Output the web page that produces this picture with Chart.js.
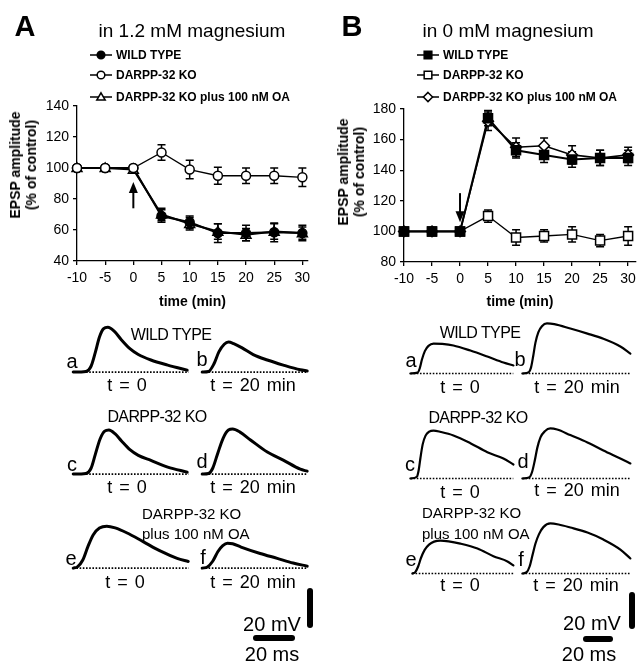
<!DOCTYPE html>
<html>
<head>
<meta charset="utf-8">
<script src="https://cdn.jsdelivr.net/npm/chart.js@4.4.1/dist/chart.umd.min.js"></script>
<style>
  body { margin: 0; background: #fff; font-family: Arial, "Liberation Sans", sans-serif; color: #000; }
  #fig { position: relative; width: 641px; height: 669px; overflow: hidden; }
  #fig canvas { position: absolute; }
  .lbl { position: absolute; white-space: nowrap; line-height: 1; transform: translate(-50%, -50%); }
  .left { transform: translate(0, -50%); }
  .ytitle { position: absolute; font-weight: bold; font-size: 14px; line-height: 16px; text-align: center;
            white-space: nowrap; transform: translate(-50%, -50%) rotate(-90deg); }
  .bar { position: absolute; background: #000; border-radius: 3px; }
</style>
</head>
<body>
<div id="fig">
  <canvas id="chartA" width="320" height="315" style="left:0;top:0"></canvas>
  <canvas id="chartB" width="321" height="315" style="left:320px;top:0"></canvas>
</div>
<script>
// ---- summary data (time in min, EPSP amplitude in % of control) ----
const times = [-10, -5, 0, 5, 10, 15, 20, 25, 30];
const yTicksA = [40, 60, 80, 100, 120, 140];
const yTicksB = [80, 100, 120, 140, 160, 180];

const wtA = [100, 100, 100, 69, 65, 58, 58, 58.5, 58];
const wtAErr = [0, 0, 0, 4, 4, 6, 5, 6, 5];
const koA = [100, 100, 100, 110, 99, 95, 95, 95, 94];
const koAErr = [0, 0, 1, 5, 6, 5.5, 5, 5, 6];
const oaA = [100, 100, 99, 70, 64, 59, 57, 59, 58];
const oaAErr = [0, 0, 0, 4, 4, 5, 4, 5, 4];

const wtB = [100, 100, 100, 174, 153, 150, 147, 148, 148];
const wtBErr = [0, 0, 0, 5, 5, 5, 5, 5, 5];
const koB = [100, 100, 100, 110, 96, 97, 98, 94, 97];
const koBErr = [0, 0, 0, 4, 5, 4, 5, 4, 6];
const oaB = [100, 100, 100, 172, 155, 156, 150, 148, 150];
const oaBErr = [0, 0, 0, 6, 6, 5, 6, 5, 5];

// arrow marking the change at t = 0 (y from -> tip)
const arrowA = { x: 0, from: 74, to: 91 };
const arrowB = { x: 0, from: 125, to: 106 };

// ---- EPSP traces, [ms, mV] ----
const traceAa = [[0,0],[6,0.3],[8.5,3],[10.5,10],[12.5,18],[14.5,22.3],[16.5,23],[19.5,21],[23,16.5],[27,12],[31,9],[37,6.2],[45,3.6],[54.3,1]];
const traceAb = [[0,0],[3,0.3],[5.5,4],[8,10.5],[10.5,14.3],[12.5,15.4],[15,14.6],[19,12.4],[24.3,9],[31,6.2],[38.6,3.6],[46.7,1.2],[50,0.6]];
const traceAc = [[0,0],[6,0.3],[8.5,3],[10.5,10],[12.8,18],[15,22],[17,22.6],[20,20.6],[23,17],[27,12.5],[31,9.6],[37,7],[45,3.6],[54.3,1]];
const traceAd = [[0,0],[3,0.3],[5,3],[7.5,11],[10,18.5],[12.5,22.6],[14.5,23.1],[18,21.5],[23,17.5],[31,11.3],[38.6,7.2],[46.7,2.5],[50,1.5]];
const traceAe = [[0,0],[2,0.6],[4.5,4],[7,11],[9.5,17],[12.5,20.5],[16,21.5],[20,20.6],[25.7,18],[33.3,13.6],[41.4,8.8],[49.5,5],[54.8,3.4]];
const traceAf = [[0,0],[2.5,0.6],[5,3.5],[7.5,8.5],[9.8,11.5],[12,12.8],[14.5,12.5],[18.5,10.8],[27.6,7.5],[35.7,5],[43.3,2.6],[50,1]];
const traceBa = [[0,0],[5,0.5],[6.5,3],[8,8],[10,12.8],[12.5,15.8],[16,17.1],[22,16.9],[29.7,16],[41.4,13.1],[53.1,9.7],[64.2,6.3],[71.1,4.6]];
const traceBb = [[0,0],[4.5,0.8],[6,3.5],[7.5,10],[9,17.5],[11,23.5],[13.5,27],[17,28.6],[22,28.2],[33.1,25.7],[44.9,22.8],[55.9,19.8],[67.6,15.4],[74.5,11.4]];
const traceBc = [[0,0],[4.5,1],[5.8,5],[7,12],[8.5,19.5],[10.5,24.5],[13,26.8],[16,27.4],[21,26.6],[29.7,24.6],[41.4,20.2],[53.1,15],[64.2,11.4],[71.1,8]];
const traceBd = [[0,0],[5,0.8],[6.8,4],[8.5,10],[10.3,17.5],[12.5,23.5],[15.5,27],[19.3,28.6],[24,28],[33.1,24.8],[44.9,20.6],[55.9,16],[67.6,11.4],[74.5,8.6]];
const traceBe = [[0,0],[2,0.8],[4,4],[6,9],[8.5,13.5],[11.5,16.5],[15,18.2],[19.3,18.8],[25,18.4],[33.1,17.1],[44.9,14.3],[55.9,9.9],[65.6,6.9],[69.7,4.6]];
const traceBf = [[0,0],[3,0.8],[5,4],[7,10.5],[9,17],[11.5,22.5],[14.5,26.5],[19.3,28.6],[25,28],[33.1,26.3],[44.9,23.4],[55.9,19.4],[67.6,13.7],[74.5,8.6]];
const baseEndA = { a: 55, b: 50, c: 55, d: 50, e: 55, f: 50 };
const baseEndB = { a: 71, b: 74.5, c: 71, d: 74.5, e: 70, f: 74.5 };

Chart.defaults.font.family = 'Arial, "Liberation Sans", sans-serif';
Chart.defaults.color = '#000';

function drawMarker(ctx, style, x, y, r, filled) {
  ctx.save();
  ctx.beginPath();
  if (style === 'circle') ctx.arc(x, y, r, 0, Math.PI * 2);
  else if (style === 'rect') ctx.rect(x - r, y - r, 2 * r, 2 * r);
  else if (style === 'triangle') { ctx.moveTo(x, y - r * 1.1); ctx.lineTo(x + r * 1.1, y + r * 0.8); ctx.lineTo(x - r * 1.1, y + r * 0.8); ctx.closePath(); }
  else if (style === 'rectRot') { ctx.moveTo(x, y - r * 1.2); ctx.lineTo(x + r * 1.2, y); ctx.lineTo(x, y + r * 1.2); ctx.lineTo(x - r * 1.2, y); ctx.closePath(); }
  ctx.fillStyle = filled ? '#000' : '#fff';
  ctx.fill();
  ctx.lineWidth = 1.5; ctx.strokeStyle = '#000';
  ctx.stroke();
  ctx.restore();
}

const errorBars = {
  id: 'errorBars',
  beforeDatasetsDraw(chart) {
    const { ctx, scales: { x, y } } = chart;
    ctx.save();
    ctx.strokeStyle = '#000'; ctx.lineWidth = 1.5;
    chart.data.datasets.forEach(ds => {
      ds.data.forEach((p, i) => {
        const e = ds.errors[i]; if (!e) return;
        const px = x.getPixelForValue(p.x), top = y.getPixelForValue(p.y + e), bot = y.getPixelForValue(p.y - e);
        ctx.beginPath();
        ctx.moveTo(px, top); ctx.lineTo(px, bot);
        ctx.moveTo(px - 4, top); ctx.lineTo(px + 4, top);
        ctx.moveTo(px - 4, bot); ctx.lineTo(px + 4, bot);
        ctx.stroke();
      });
    });
    ctx.restore();
  },
  // markers drawn by hand so open/filled symbols look like the print
  afterDatasetsDraw(chart) {
    const { ctx, scales: { x, y } } = chart;
    const idx = chart.data.datasets.map((ds, i) => i).sort((a, b) => chart.data.datasets[b].order - chart.data.datasets[a].order);
    idx.forEach(i => {
      const ds = chart.data.datasets[i];
      ds.data.forEach(p => drawMarker(ctx, ds.marker, x.getPixelForValue(p.x), y.getPixelForValue(p.y), ds.markerSize, ds.filled));
    });
  }
};

const arrowPlugin = {
  id: 'arrow',
  afterDatasetsDraw(chart, args, opts) {
    const { ctx, scales: { x, y } } = chart;
    const px = x.getPixelForValue(opts.x), y0 = y.getPixelForValue(opts.from), y1 = y.getPixelForValue(opts.to);
    const dir = Math.sign(y1 - y0);
    ctx.save();
    ctx.strokeStyle = '#000'; ctx.fillStyle = '#000'; ctx.lineWidth = 2;
    ctx.beginPath(); ctx.moveTo(px, y0); ctx.lineTo(px, y1 - dir * 8); ctx.stroke();
    ctx.beginPath(); ctx.moveTo(px, y1); ctx.lineTo(px - 4.5, y1 - dir * 11); ctx.lineTo(px + 4.5, y1 - dir * 11); ctx.closePath(); ctx.fill();
    ctx.restore();
  }
};

const figLegend = {
  id: 'figLegend',
  afterDraw(chart, args, opts) {
    const ctx = chart.ctx;
    ctx.save();
    opts.order.forEach((idx, k) => {
      const ds = chart.data.datasets[idx], yy = opts.y[k];
      ctx.strokeStyle = '#000'; ctx.lineWidth = 1.5;
      ctx.beginPath(); ctx.moveTo(opts.x0, yy); ctx.lineTo(opts.x1, yy); ctx.stroke();
      drawMarker(ctx, ds.marker, (opts.x0 + opts.x1) / 2, yy, ds.markerSize * 0.85, ds.filled);
      ctx.fillStyle = '#000'; ctx.font = 'bold 12px Arial, "Liberation Sans", sans-serif'; ctx.textBaseline = 'middle';
      ctx.fillText(ds.label, opts.textX, yy + 0.5);
    });
    ctx.restore();
  }
};

function series(label, vals, errs, marker, filled, width, order) {
  return {
    label, order, marker, filled, markerSize: 4.5, errors: errs,
    data: times.map((t, i) => ({ x: t, y: vals[i] })),
    borderColor: '#000', borderWidth: width, pointRadius: 0, tension: 0
  };
}

function axisOpts(min, max, tickVals, fitSize, horiz) {
  return {
    type: 'linear', min, max,
    afterBuildTicks: s => { s.ticks = tickVals.map(v => ({ value: v })); },
    afterFit: s => { if (horiz) s.height = fitSize; else s.width = fitSize; },
    grid: { drawOnChartArea: false, drawTicks: true, tickLength: 4, color: '#000', lineWidth: 1.3 },
    border: { display: true, color: '#000', width: 1.3 },
    ticks: { font: { size: 14 }, color: '#000', padding: horiz ? 5 : 4 },
  };
}

function summaryChart(id, datasets, xmax, yMin, yMax, yTicks, yWidth, xHeight, pad, arrow, legendX) {
  const x = axisOpts(-10, xmax, times, xHeight, true);
  x.title = { display: true, text: 'time (min)', font: { size: 14, weight: 'bold' }, padding: { top: 2 } };
  return new Chart(document.getElementById(id), {
    type: 'line',
    data: { datasets },
    options: {
      responsive: false, animation: false, events: [],
      layout: { padding: pad },
      plugins: {
        legend: { display: false }, tooltip: { enabled: false },
        arrow,
        figLegend: { order: [0, 1, 2], y: [55, 75, 97], x0: legendX, x1: legendX + 22, textX: legendX + 26 }
      },
      scales: { x, y: axisOpts(yMin, yMax, yTicks, yWidth, false) }
    },
    plugins: [errorBars, arrowPlugin, figLegend]
  });
}

summaryChart('chartA', [
  series('WILD TYPE', wtA, wtAErr, 'circle', true, 2, 1),
  series('DARPP-32 KO', koA, koAErr, 'circle', false, 1.3, 0),
  series('DARPP-32 KO plus 100 nM OA', oaA, oaAErr, 'triangle', false, 2, 2)
], 31, 40, 140, yTicksA, 77, 54, { top: 106, right: 12, left: 0, bottom: 0 }, arrowA, 90);

summaryChart('chartB', [
  series('WILD TYPE', wtB, wtBErr, 'rect', true, 2, 0),
  series('DARPP-32 KO', koB, koBErr, 'rect', false, 1.3, 2),
  series('DARPP-32 KO plus 100 nM OA', oaB, oaBErr, 'rectRot', false, 1.6, 1)
], 31.4, 80, 180, yTicksB, 84, 53, { top: 109, right: 3, left: 0, bottom: 0 }, arrowB, 97);

// ---- traces ----
const fig = document.getElementById('fig');
function traceChart(pts, baseEnd, left, top, panel) {
  const c = panel === 'A'
    ? { w: 126, h: 55, xmin: -2, xmax: 58, ymin: -2, ymax: 26.2, lw: 3 }
    : { w: 116, h: 56, xmin: -3, xmax: 77, ymin: -2, ymax: 30, lw: 2.2 };
  const cv = document.createElement('canvas');
  cv.width = c.w; cv.height = c.h;
  cv.style.left = left + 'px'; cv.style.top = top + 'px';
  fig.appendChild(cv);
  new Chart(cv, {
    type: 'line',
    data: { datasets: [
      { data: pts.map(p => ({ x: p[0], y: p[1] })), borderColor: '#000', borderWidth: c.lw, pointRadius: 0,
        cubicInterpolationMode: 'monotone', borderCapStyle: 'round', borderJoinStyle: 'round', clip: false },
      { data: [{ x: 0, y: 0 }, { x: baseEnd, y: 0 }], borderColor: '#000', borderWidth: 1.6, borderDash: [1.6, 1.6], pointRadius: 0 }
    ] },
    options: {
      responsive: false, animation: false, events: [],
      layout: { padding: 0 },
      plugins: { legend: { display: false }, tooltip: { enabled: false } },
      scales: { x: { type: 'linear', display: false, min: c.xmin, max: c.xmax }, y: { display: false, min: c.ymin, max: c.ymax } }
    }
  });
}
traceChart(traceAa, baseEndA.a, 69, 321, 'A');
traceChart(traceAb, baseEndA.b, 198, 321, 'A');
traceChart(traceAc, baseEndA.c, 69, 423, 'A');
traceChart(traceAd, baseEndA.d, 198, 423, 'A');
traceChart(traceAe, baseEndA.e, 69, 517, 'A');
traceChart(traceAf, baseEndA.f, 198, 517, 'A');
traceChart(traceBa, baseEndB.a, 406, 321, 'B');
traceChart(traceBb, baseEndB.b, 518, 321, 'B');
traceChart(traceBc, baseEndB.c, 406, 426, 'B');
traceChart(traceBd, baseEndB.d, 518, 426, 'B');
traceChart(traceBe, baseEndB.e, 408, 521, 'B');
traceChart(traceBf, baseEndB.f, 518, 521, 'B');

// ---- text ----
function txt(s, x, y, css, left) {
  const d = document.createElement('div');
  d.className = 'lbl' + (left ? ' left' : '');
  d.textContent = s;
  d.style.left = x + 'px'; d.style.top = y + 'px';
  d.style.cssText += css || '';
  fig.appendChild(d);
}
function ytitle(x, y) {
  const d = document.createElement('div');
  d.className = 'ytitle';
  d.innerHTML = 'EPSP amplitude<br>(% of control)';
  d.style.left = x + 'px'; d.style.top = y + 'px';
  fig.appendChild(d);
}
function bar(x, y, w, h) {
  const d = document.createElement('div');
  d.className = 'bar';
  d.style.left = x + 'px'; d.style.top = y + 'px'; d.style.width = w + 'px'; d.style.height = h + 'px';
  fig.appendChild(d);
}

const big = 'font-size:29px;font-weight:bold;';
const head = 'font-size:19px;';
const name = 'font-size:16px;letter-spacing:-0.6px;';
const tlab = 'font-size:18px;word-spacing:2px;';
const letter = 'font-size:20px;';
txt('A', 25, 26, big); txt('in 1.2 mM magnesium', 192, 30, head);
txt('B', 352, 26, big); txt('in 0 mM magnesium', 508, 30, head);
ytitle(23, 165); ytitle(351, 172);

// panel A trace labels
txt('WILD TYPE', 171, 335, name);
txt('a', 72, 361, letter); txt('b', 202, 359, letter);
txt('t = 0', 127, 385, tlab); txt('t = 20 min', 253, 385, tlab);
txt('DARPP-32 KO', 157, 417, name);
txt('c', 72, 464, letter); txt('d', 202, 461, letter);
txt('t = 0', 127, 487, tlab); txt('t = 20 min', 253, 487, tlab);
txt('DARPP-32 KO', 142, 513, 'font-size:15px;', true);
txt('plus 100 nM OA', 142, 533, 'font-size:15px;', true);
txt('e', 71, 558, letter); txt('f', 203, 557, letter);
txt('t = 0', 125, 582, tlab); txt('t = 20 min', 253, 582, tlab);
txt('20 mV', 272, 624, letter); txt('20 ms', 272, 654, letter);
bar(307, 588, 6, 40); bar(253, 635, 42, 6);

// panel B trace labels
txt('WILD TYPE', 480, 333, name);
txt('a', 411, 360, letter); txt('b', 520, 359, letter);
txt('t = 0', 460, 387, tlab); txt('t = 20 min', 577, 387, tlab);
txt('DARPP-32 KO', 478, 418, name);
txt('c', 410, 464, letter); txt('d', 523, 461, letter);
txt('t = 0', 460, 492, tlab); txt('t = 20 min', 577, 490, tlab);
txt('DARPP-32 KO', 422, 512, 'font-size:15px;', true);
txt('plus 100 nM OA', 422, 533, 'font-size:15px;', true);
txt('e', 411, 559, letter); txt('f', 521, 559, letter);
txt('t = 0', 460, 585, tlab); txt('t = 20 min', 576, 585, tlab);
txt('20 mV', 592, 623, letter); txt('20 ms', 589, 654, letter);
bar(629, 592, 6, 37); bar(583, 636, 30, 6);
</script>
</body>
</html>
